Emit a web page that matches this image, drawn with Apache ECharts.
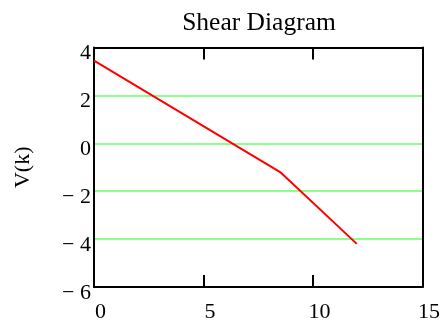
<!DOCTYPE html>
<html>
<head>
<meta charset="utf-8">
<script src="https://cdn.jsdelivr.net/npm/echarts@6/dist/echarts.min.js"></script>
<style>
html,body{margin:0;padding:0;background:#fff;}
#c{width:443px;height:323px;}
</style>
</head>
<body>
<div id="c"></div>
<script>
var titleText = "Shear Diagram";
var yAxisName = "V(k)";
var xPositions = [0, 8.5, 12];
var shearValues = [3.45, -1.2, -4.2];
var xTicks = [0, 5, 10, 15];
var yTicks = [-6, -4, -2, 0, 2, 4];

var serif = "'Liberation Serif', 'Times New Roman', serif";
var chart = echarts.init(document.getElementById('c'));
var pts = xPositions.map(function (x, i) { return [x, shearValues[i]]; });

chart.setOption({
  animation: false,
  title: {
    text: titleText,
    left: 254,
    textAlign: 'center',
    top: 5,
    textStyle: { fontFamily: serif, fontSize: 25.5, fontWeight: 'normal', color: '#000' }
  },
  grid: { left: 94, right: 20, top: 47.5, bottom: 36 },
  xAxis: [{
    type: 'value', min: xTicks[0], max: xTicks[xTicks.length - 1], interval: 5,
    position: 'bottom',
    axisLine: { show: true, onZero: false, lineStyle: { color: '#000', width: 2 } },
    axisTick: { show: true, inside: true, length: 12, lineStyle: { color: '#000', width: 2 } },
    splitLine: { show: false },
    axisLabel: { fontFamily: serif, fontSize: 22, color: '#000', margin: 14, padding: [0, 0, 0, 13] }
  }, {
    type: 'value', min: xTicks[0], max: xTicks[xTicks.length - 1], interval: 5,
    position: 'top',
    axisLine: { show: true, onZero: false, lineStyle: { color: '#000', width: 2 } },
    axisTick: { show: true, inside: true, length: 12, lineStyle: { color: '#000', width: 2 } },
    splitLine: { show: false },
    axisLabel: { show: false }
  }],
  yAxis: [{
    type: 'value', min: yTicks[0], max: yTicks[yTicks.length - 1], interval: 2,
    position: 'left',
    name: yAxisName, nameLocation: 'middle', nameGap: 60, nameRotate: 90,
    nameTextStyle: { fontFamily: serif, fontSize: 22, color: '#000' },
    axisLine: { show: true, onZero: false, lineStyle: { color: '#000', width: 2 } },
    axisTick: { show: false },
    splitLine: { show: true, lineStyle: { color: '#66ff66', width: 1.5 } },
    axisLabel: {
      fontFamily: serif, fontSize: 22, color: '#000', margin: 3,
      verticalAlign: 'top', lineHeight: 12,
      formatter: function (v) { return v < 0 ? '\u2212 ' + Math.abs(v) : String(v); }
    }
  }, {
    type: 'value', min: yTicks[0], max: yTicks[yTicks.length - 1], interval: 2,
    position: 'right',
    axisLine: { show: true, onZero: false, lineStyle: { color: '#000', width: 2 } },
    axisTick: { show: false },
    splitLine: { show: false },
    axisLabel: { show: false }
  }],
  series: [{
    type: 'line',
    data: pts,
    symbol: 'none',
    lineStyle: { color: '#ff0000', width: 2 },
    xAxisIndex: 0, yAxisIndex: 0
  }]
});
</script>
</body>
</html>
